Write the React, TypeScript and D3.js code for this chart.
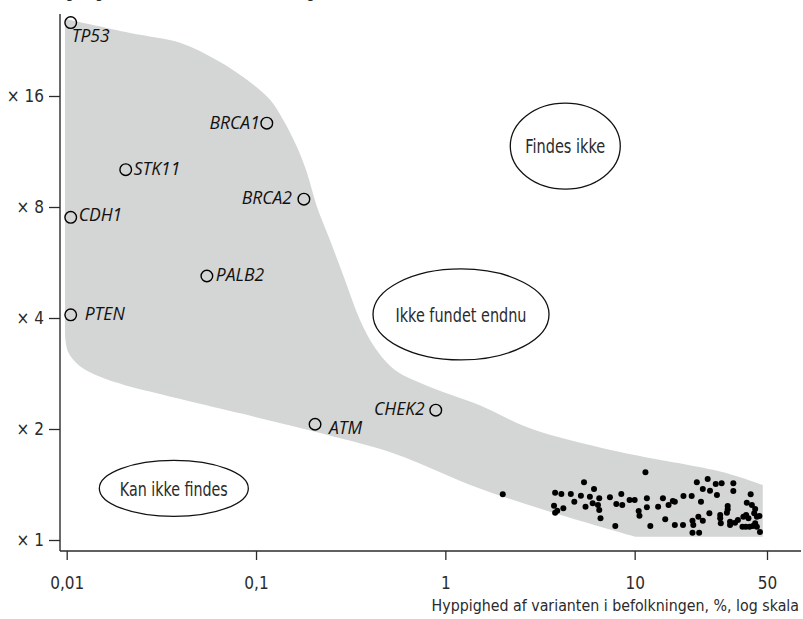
import React, { useEffect, useRef } from 'react';
import * as d3 from 'd3';

// genes with rare, high-risk variants (frequency in %, relative risk)
const genes = ['TP53', 'BRCA1', 'STK11', 'BRCA2', 'CDH1', 'PALB2', 'PTEN', 'ATM', 'CHEK2'];
const geneFreq = [0.0105, 0.114, 0.0205, 0.179, 0.0105, 0.055, 0.0105, 0.205, 0.89];
const geneRisk = [25.3, 13.5, 10.1, 8.4, 7.5, 5.2, 4.08, 2.06, 2.25];

// common low-risk variants
const commonFreq = [2.01, 11.4, 5.4, 6.1, 3.8, 4.1, 4.6, 5.2, 5.8, 6.5, 7.4, 8.5, 9.4, 10.0, 11.6, 14.1, 15.9, 18.1, 20.0, 21.3,
    24.3, 22.9, 25.0, 26.8, 28.8, 33.2, 33.2, 27.2, 41.0, 3.75, 4.2, 3.9, 3.8, 4.8, 5.5, 6.0, 6.4, 6.5, 6.6, 8.0,
    8.6, 10.5, 10.6, 11.6, 13.3, 15.1, 16.3, 22.4, 31.0, 31.0, 39.1, 41.6, 43.3, 42.8, 44.2, 38.8, 37.5, 39.9, 45.6, 35.1,
    33.9, 31.9, 31.9, 28.3, 28.3, 28.5, 30.7, 24.8, 22.9, 21.7, 20.2, 20.4, 18.0, 16.3, 14.5, 12.1, 7.9, 20.2, 21.9, 37.1,
    38.6, 40.4, 42.1, 43.3, 44.2, 45.9];
const commonRisk = [1.33, 1.526, 1.434, 1.375, 1.344, 1.333, 1.333, 1.319, 1.31, 1.298, 1.306, 1.333, 1.284, 1.284, 1.298, 1.298, 1.276, 1.316, 1.316, 1.434,
    1.464, 1.375, 1.36, 1.419, 1.425, 1.425, 1.358, 1.324, 1.33, 1.239, 1.219, 1.2, 1.186, 1.27, 1.231, 1.258, 1.244, 1.206, 1.145, 1.252,
    1.244, 1.198, 1.164, 1.227, 1.231, 1.244, 1.27, 1.27, 1.236, 1.211, 1.262, 1.244, 1.214, 1.181, 1.157, 1.169, 1.157, 1.145, 1.162, 1.133,
    1.114, 1.121, 1.098, 1.169, 1.145, 1.11, 1.186, 1.181, 1.128, 1.157, 1.128, 1.098, 1.098, 1.098, 1.138, 1.091, 1.091, 1.047, 1.047, 1.087,
    1.087, 1.087, 1.091, 1.11, 1.087, 1.051];

// grey band: upper edge left->right, lower edge right->left
const bandUpperFreq = [0.0098, 0.0216, 0.0397, 0.0622, 0.0896, 0.119, 0.139, 0.165, 0.186, 0.21, 0.246, 0.295, 0.354, 0.425, 0.542, 0.83, 1.52, 2.8, 7.67, 25.9, 36, 47.5];
const bandUpperRisk = [25.9, 23.7, 22.3, 20.0, 17.7, 15.6, 13.8, 11.6, 9.9, 8.0, 6.5, 5.07, 3.95, 3.32, 2.89, 2.6, 2.32, 2.01, 1.75, 1.55, 1.48, 1.41];
const bandLowerFreq = [10.05, 4.04, 1.52, 0.531, 0.237, 0.105, 0.0506, 0.0311, 0.0203, 0.015, 0.01175, 0.01016, 0.0098];
const bandLowerRisk = [1.02, 1.17, 1.38, 1.72, 1.93, 2.14, 2.34, 2.49, 2.63, 2.77, 2.96, 3.24, 3.6];
const bandCornerRisk = 1.02;

const zones = ['Findes ikke', 'Ikke fundet endnu', 'Kan ikke findes'];
const zoneFreq = [4.3, 1.21, 0.0368];
const zoneRisk = [11.7, 4.09, 1.38];

const xTicks = [0.01, 0.1, 1, 10, 50];
const xTickLabels = ['0,01', '0,1', '1', '10', '50'];
const yTicks = [1, 2, 4, 8, 16];
const yTickLabels = ['× 1', '× 2', '× 4', '× 8', '× 16'];

const xTitle = 'Hyppighed af varianten i befolkningen, %, log skala';
const yTitle = 'Stigning i risiko for at udvikle kræft, log skala';

// label placement relative to each gene circle
const labelDx = [1, -7, 8, -12, 8, 9, 14, 14, -11];
const labelDy = [19, 5.5, 5, 5, 3.5, 5, 5, 10, 5];
const labelAnchor = ['start', 'end', 'start', 'end', 'start', 'start', 'start', 'start', 'end'];
const zoneRx = [55, 88, 74.5];
const zoneRy = [43, 45.5, 28];
const zoneTextWidth = [80, 131, 108];

const narrow = "'DejaVu Sans Condensed', 'Liberation Sans Narrow', sans-serif";
const italicFont = "'Open Sans', sans-serif";
const ink = '#2b2b2b';

function RiskChart() {
    const svgRef = useRef<SVGSVGElement>(null);

    useEffect(() => {
        const svg = d3.select(svgRef.current);
        svg.selectAll('*').remove();

        const width = 803;
        const height = 619;
        svg.attr('width', width).attr('height', height);

        const x = d3.scaleLog().domain([0.01, 50]).range([66.7, 767]);
        const y = d3.scaleLog().base(2).domain([1, 16]).range([540, 96]);
        const axisY = 551;
        const axisX = 60;

        // grey band
        const line = d3.line<[number, number]>()
            .x(d => x(d[0]))
            .y(d => y(d[1]))
            .curve(d3.curveCatmullRom.alpha(0.5));
        const upper = bandUpperFreq.map((f, i) => [f, bandUpperRisk[i]] as [number, number]);
        const lower = bandLowerFreq.map((f, i) => [f, bandLowerRisk[i]] as [number, number]);
        const last = upper[upper.length - 1];
        const upperPath = line(upper) || '';
        const lowerPath = (line(lower) || '').replace(/^M/, 'L');
        const bandPath = upperPath
            + `L${x(last[0])},${y(bandCornerRisk)}`
            + lowerPath + 'Z';
        svg.append('path')
            .attr('d', bandPath)
            .attr('fill', '#d4d5d5');

        // axes
        const xAxis = svg.append('g')
            .attr('transform', `translate(0,${axisY})`)
            .call(d3.axisBottom(x).tickValues(xTicks).tickFormat((d, i) => xTickLabels[i]).tickSize(9));
        xAxis.select('.domain').remove();
        xAxis.selectAll('line').attr('stroke', ink).attr('stroke-width', 1.3);
        xAxis.selectAll('text')
            .attr('y', 38).attr('dy', 0)
            .attr('fill', ink)
            .style('font-family', narrow)
            .style('font-size', '17px');

        const yAxis = svg.append('g')
            .attr('transform', `translate(${axisX},0)`)
            .call(d3.axisLeft(y).tickValues(yTicks).tickFormat((d, i) => yTickLabels[i]).tickSize(11).tickPadding(5));
        yAxis.select('.domain').remove();
        yAxis.selectAll('line').attr('stroke', ink).attr('stroke-width', 1.3);
        yAxis.selectAll('text')
            .attr('fill', ink)
            .style('font-family', narrow)
            .style('font-size', '17px');

        svg.append('line')
            .attr('x1', axisX).attr('x2', axisX)
            .attr('y1', 14).attr('y2', axisY)
            .attr('stroke', ink).attr('stroke-width', 1.4);
        svg.append('line')
            .attr('x1', axisX).attr('x2', 801)
            .attr('y1', axisY).attr('y2', axisY)
            .attr('stroke', ink).attr('stroke-width', 1.4);

        svg.append('text')
            .attr('x', 799).attr('y', 611)
            .attr('text-anchor', 'end')
            .attr('fill', ink)
            .style('font-family', narrow)
            .style('font-size', '15.8px')
            .text(xTitle);

        // y title, mostly cut off at the top edge as in the source
        svg.append('text')
            .attr('x', 48).attr('y', -2)
            .attr('fill', ink)
            .style('font-family', narrow)
            .style('font-size', '15px')
            .text(yTitle);

        // zone ellipses
        const zoneG = svg.selectAll('.zone')
            .data(zones)
            .enter()
            .append('g')
            .attr('class', 'zone');
        zoneG.append('ellipse')
            .attr('cx', (d, i) => x(zoneFreq[i]))
            .attr('cy', (d, i) => y(zoneRisk[i]))
            .attr('rx', (d, i) => zoneRx[i])
            .attr('ry', (d, i) => zoneRy[i])
            .attr('fill', 'none')
            .attr('stroke', '#111')
            .attr('stroke-width', 1.3);
        zoneG.append('text')
            .attr('x', (d, i) => x(zoneFreq[i]))
            .attr('y', (d, i) => y(zoneRisk[i]))
            .attr('dy', '0.38em')
            .attr('text-anchor', 'middle')
            .attr('textLength', (d, i) => zoneTextWidth[i])
            .attr('lengthAdjust', 'spacingAndGlyphs')
            .attr('fill', ink)
            .style('font-family', narrow)
            .style('font-size', '19px')
            .text(d => d);

        // common variants
        svg.selectAll('.common')
            .data(commonFreq)
            .enter()
            .append('circle')
            .attr('class', 'common')
            .attr('cx', d => x(d))
            .attr('cy', (d, i) => y(commonRisk[i]))
            .attr('r', 3)
            .attr('fill', '#000');

        // genes
        svg.selectAll('.gene')
            .data(genes)
            .enter()
            .append('circle')
            .attr('class', 'gene')
            .attr('cx', (d, i) => x(geneFreq[i]))
            .attr('cy', (d, i) => y(geneRisk[i]))
            .attr('r', 5.8)
            .attr('fill', 'none')
            .attr('stroke', '#000')
            .attr('stroke-width', 1.4);

        svg.selectAll('.gene-label')
            .data(genes)
            .enter()
            .append('text')
            .attr('class', 'gene-label')
            .attr('x', (d, i) => x(geneFreq[i]) + labelDx[i])
            .attr('y', (d, i) => y(geneRisk[i]) + labelDy[i])
            .attr('text-anchor', (d, i) => labelAnchor[i])
            .attr('fill', '#111')
            .style('font-family', italicFont)
            .style('font-style', 'italic')
            .style('font-size', '17.5px')
            .text(d => d);
    }, []);

    return <svg ref={svgRef} style={{ position: 'absolute', left: 0, top: 0, background: '#fff' }}></svg>;
}

export default function App() {
    return <RiskChart />;
}
